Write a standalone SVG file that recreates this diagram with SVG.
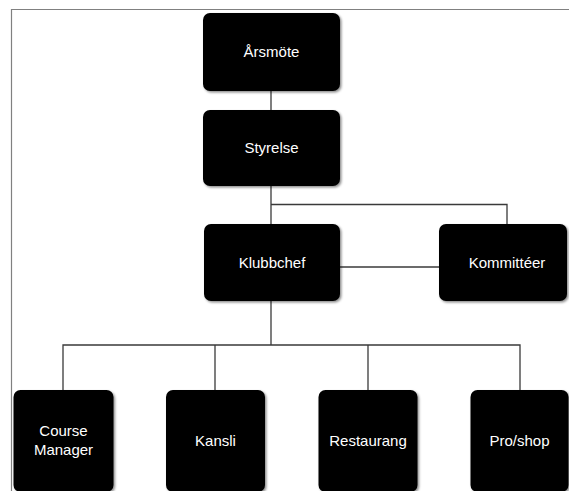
<svg xmlns="http://www.w3.org/2000/svg" width="569" height="491" viewBox="0 0 569 491">
<style>
.box{fill:#000;filter:url(#sh)}
.lbl{fill:#fff;font-family:"Liberation Sans",Arial,sans-serif;font-size:15px;text-anchor:middle}
.con{stroke:#3a3a3a;stroke-width:1.3;fill:none}
.frame{stroke:#808080;stroke-width:1.2;fill:none}
</style>
<defs>
<filter id="sh" x="-10%" y="-10%" width="125%" height="125%">
<feDropShadow dx="1.5" dy="1.5" stdDeviation="1.2" flood-color="#000" flood-opacity="0.45"/>
</filter>
</defs>
<rect width="569" height="491" fill="#fff"/>
<path class="frame" d="M11.5 491 V9.5 H569"/>
<g id="connectors">
<path class="con" d="M271 91 V110"/>
<path class="con" d="M271 186 V224"/>
<path class="con" d="M271 204.5 H507 V224"/>
<path class="con" d="M340 267 H439"/>
<path class="con" d="M271 301 V345"/>
<path class="con" d="M63 390 V345 H520 V390"/>
<path class="con" d="M215 345 V390"/>
<path class="con" d="M368 345 V390"/>
</g>
<g id="arsmote">
<rect class="box" x="203" y="13" width="137" height="78" rx="7"/>
<text class="lbl" x="271.5" y="57">Årsmöte</text>
</g>
<g id="styrelse">
<rect class="box" x="203" y="110" width="137" height="76" rx="7"/>
<text class="lbl" x="271.5" y="153">Styrelse</text>
</g>
<g id="klubbchef">
<rect class="box" x="204" y="224" width="136" height="77" rx="7"/>
<text class="lbl" x="272" y="268">Klubbchef</text>
</g>
<g id="kommitteer">
<rect class="box" x="439" y="224" width="128" height="77" rx="7"/>
<text class="lbl" x="507" y="268">Kommittéer</text>
</g>
<g id="course-manager">
<rect class="box" x="13.5" y="390" width="100" height="102" rx="7"/>
<text class="lbl" x="63.5" y="436">Course</text>
<text class="lbl" x="63.5" y="455">Manager</text>
</g>
<g id="kansli">
<rect class="box" x="166" y="390" width="99" height="102" rx="7"/>
<text class="lbl" x="215.5" y="446">Kansli</text>
</g>
<g id="restaurang">
<rect class="box" x="318.5" y="390" width="99" height="102" rx="7"/>
<text class="lbl" x="368" y="446">Restaurang</text>
</g>
<g id="proshop">
<rect class="box" x="470.5" y="390" width="98" height="102" rx="7"/>
<text class="lbl" x="519.5" y="446">Pro/shop</text>
</g>
</svg>
